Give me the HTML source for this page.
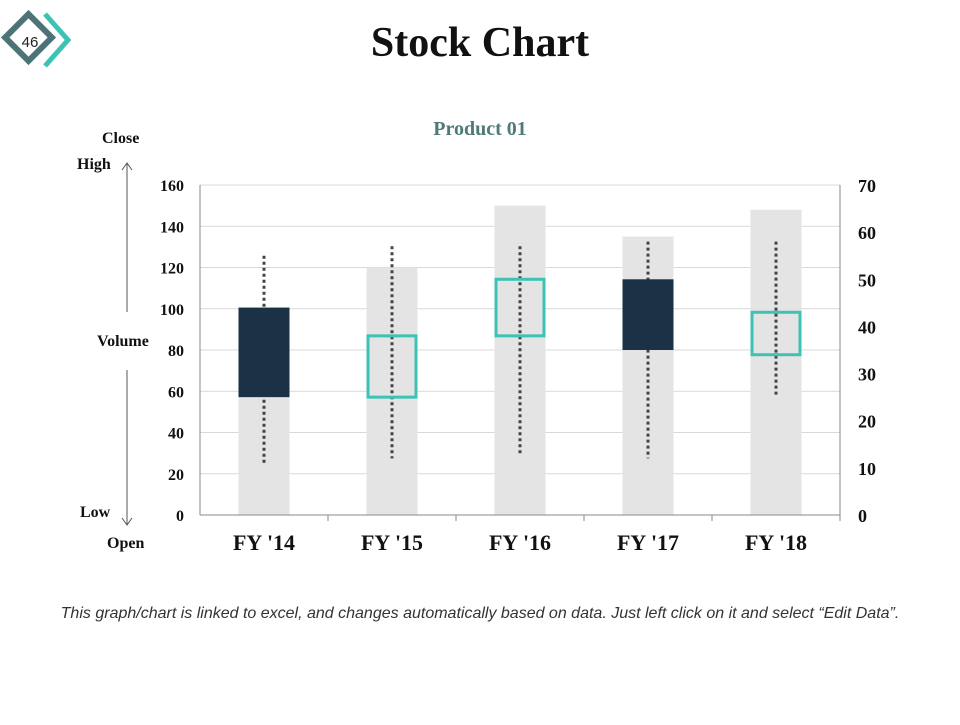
<!DOCTYPE html>
<html><head><meta charset="utf-8"><style>
body{margin:0;width:960px;height:720px;background:#fff;overflow:hidden;font-family:"Liberation Serif",serif;}
</style></head><body>
<svg width="960" height="720" xmlns="http://www.w3.org/2000/svg">
<g>
<rect x="12" y="21" width="33" height="33" transform="rotate(45 28.5 37.5)" fill="none" stroke="#4e7377" stroke-width="6"/>
<polyline points="45,14 68,40 45,66" fill="none" stroke="#3cc3b4" stroke-width="5"/>
<text x="30" y="47" font-family="Liberation Sans, sans-serif" font-size="15" text-anchor="middle" fill="#222">46</text>
</g>
<text x="480" y="56" font-size="42" font-weight="bold" text-anchor="middle" fill="#111">Stock Chart</text>
<text x="480" y="135" font-size="20" font-weight="bold" text-anchor="middle" fill="#4e7b78">Product 01</text>
<g id="grid"></g>
<g id="marks"></g>
<g id="axes" font-size="16" font-weight="bold" fill="#111"></g>
<g font-size="16" font-weight="bold" fill="#111">
<text x="102" y="143">Close</text>
<text x="77" y="169">High</text>
<text x="97" y="346">Volume</text>
<text x="80" y="517">Low</text>
<text x="107" y="548">Open</text>
<line x1="127" y1="163" x2="127" y2="312" stroke="#555"/>
<polyline points="122,170 127,163 132,170" fill="none" stroke="#555"/>
<line x1="127" y1="370" x2="127" y2="525" stroke="#555"/>
<polyline points="122,518 127,525 132,518" fill="none" stroke="#555"/>
</g>
<text x="480" y="618" font-family="Liberation Sans, sans-serif" font-style="italic" font-size="16" text-anchor="middle" fill="#333">This graph/chart is linked to excel, and changes automatically based on data. Just left click on it and select “Edit Data”.</text>
</svg>
<script>
const categories=["FY '14","FY '15","FY '16","FY '17","FY '18"];
const volume=[100,120,150,135,148];
const openV=[44,25,38,50,34];
const highV=[55,57,57,58,58];
const lowV=[11,12,13,12,25];
const closeV=[25,38,50,35,43];
const leftTicks=[0,20,40,60,80,100,120,140,160];
const rightTicks=[0,10,20,30,40,50,60,70];
const NS="http://www.w3.org/2000/svg";
const X0=200,X1=840,Y0=515,Y1=185;
const yL=v=>Y0-(v/160)*(Y0-Y1);
const yR=v=>Y0-(v/70)*(Y0-Y1);
const cw=(X1-X0)/categories.length;
const xc=i=>X0+cw*(i+0.5);
function mk(tag,attrs,parent){const e=document.createElementNS(NS,tag);for(const k in attrs)e.setAttribute(k,attrs[k]);document.getElementById(parent).appendChild(e);return e;}
leftTicks.forEach(t=>{const l=mk('line',{x1:X0,x2:X1,y1:yL(t),y2:yL(t),stroke:'#d9d9d9'},'grid');


const tx=mk('text',{x:184,y:yL(t)+6,'text-anchor':'end'},'axes');tx.textContent=t;

});
rightTicks.forEach(t=>{const tx=mk('text',{x:858,y:yR(t)+7,'font-size':18},'axes');tx.textContent=t;

});
mk('line',{x1:X0,x2:X0,y1:Y1,y2:Y0,stroke:'#888'},'axes');
mk('line',{x1:X1,x2:X1,y1:Y1,y2:Y0,stroke:'#888'},'axes');
mk('line',{x1:X0,x2:X1,y1:Y0,y2:Y0,stroke:'#888'},'axes');
categories.forEach((c,i)=>{
 mk('line',{x1:X0+cw*(i+1),x2:X0+cw*(i+1),y1:Y0,y2:Y0+6,stroke:'#888'},'axes');
 const tx=mk('text',{x:xc(i),y:550,'text-anchor':'middle','font-size':22},'axes');tx.textContent=c;
 
 
 const bw=51;
 const vb=mk('rect',{x:xc(i)-bw/2,y:yL(volume[i]),width:bw,height:Y0-yL(volume[i]),fill:'#e4e4e4'},'marks');
 
 
 const hl=mk('line',{x1:xc(i),x2:xc(i),y1:yR(highV[i]),y2:yR(lowV[i]),stroke:'#444','stroke-width':3,'stroke-dasharray':'3,3'},'marks');
 
 
 const up=closeV[i]>=openV[i];
 const top=yR(Math.max(openV[i],closeV[i])),bot=yR(Math.min(openV[i],closeV[i]));
 const box=mk('rect',up?{x:xc(i)-bw/2+1.5,y:top,width:bw-3,height:bot-top,fill:'none',stroke:'#3cc3b4','stroke-width':3}:{x:xc(i)-bw/2,y:top,width:bw,height:bot-top,fill:'#1b3146'},'marks');
 
 
});
</script>
</body></html>
